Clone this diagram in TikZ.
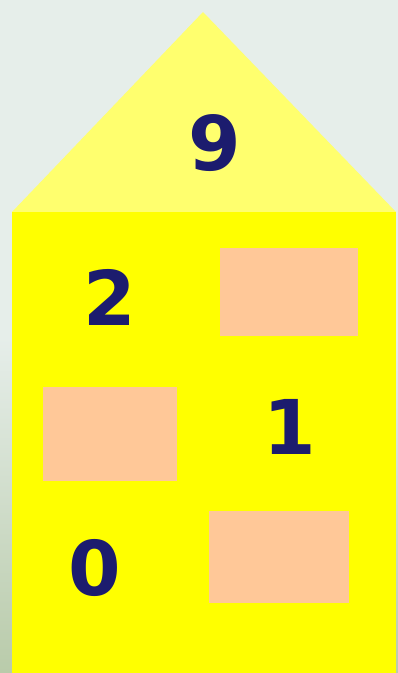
\documentclass[tikz,border=0pt]{standalone}
\usepackage{fontspec}
\setmainfont{DejaVu Sans}
\usetikzlibrary{positioning}
\definecolor{bgtop}{HTML}{E6EEEA}
\definecolor{bgbottom}{HTML}{B9CBAA}
\definecolor{roofcol}{HTML}{FFFF6E}
\definecolor{wallcol}{HTML}{FFFF00}
\definecolor{boxcol}{HTML}{FFC898}
\definecolor{digitcol}{HTML}{1C1C6E}

\begin{document}
\begin{tikzpicture}[
                    x=0.02cm, y=-0.02cm,
                    digit/.style={text=digitcol, font=\fontsize{43}{43}\selectfont\bfseries, inner sep=0pt},
                    blank/.style={rectangle, fill=boxcol, inner sep=0pt}
                ]
                    % background
                    \shade [top color=bgtop, bottom color=bgbottom, middle color=bgtop] (0,0) rectangle (398,673);
                    \useasboundingbox (0,0) rectangle (398,673);

                    % roof and wall
                    \fill [roofcol] (12,212) -- (203,12) -- (396,212) -- cycle;
                    \fill [wallcol] (12,212) rectangle (396,673);

                    \node [digit] (nine) at (215,143) {9};

                    % rows
                    \node [digit] (two) at (110,297) {2};
                    \node [blank, minimum width=2.76cm, minimum height=1.76cm] (blankA) at (289,292) {};

                    \node [blank, minimum width=2.68cm, minimum height=1.88cm] (blankB) at (110,434) {};
                    \node [digit] (one) at (290,427) {1};

                    \node [digit] (zero) at (95,568) {0};
                    \node [blank, minimum width=2.8cm, minimum height=1.86cm] (blankC) at (279,557) {};
                \end{tikzpicture}
\end{document}
